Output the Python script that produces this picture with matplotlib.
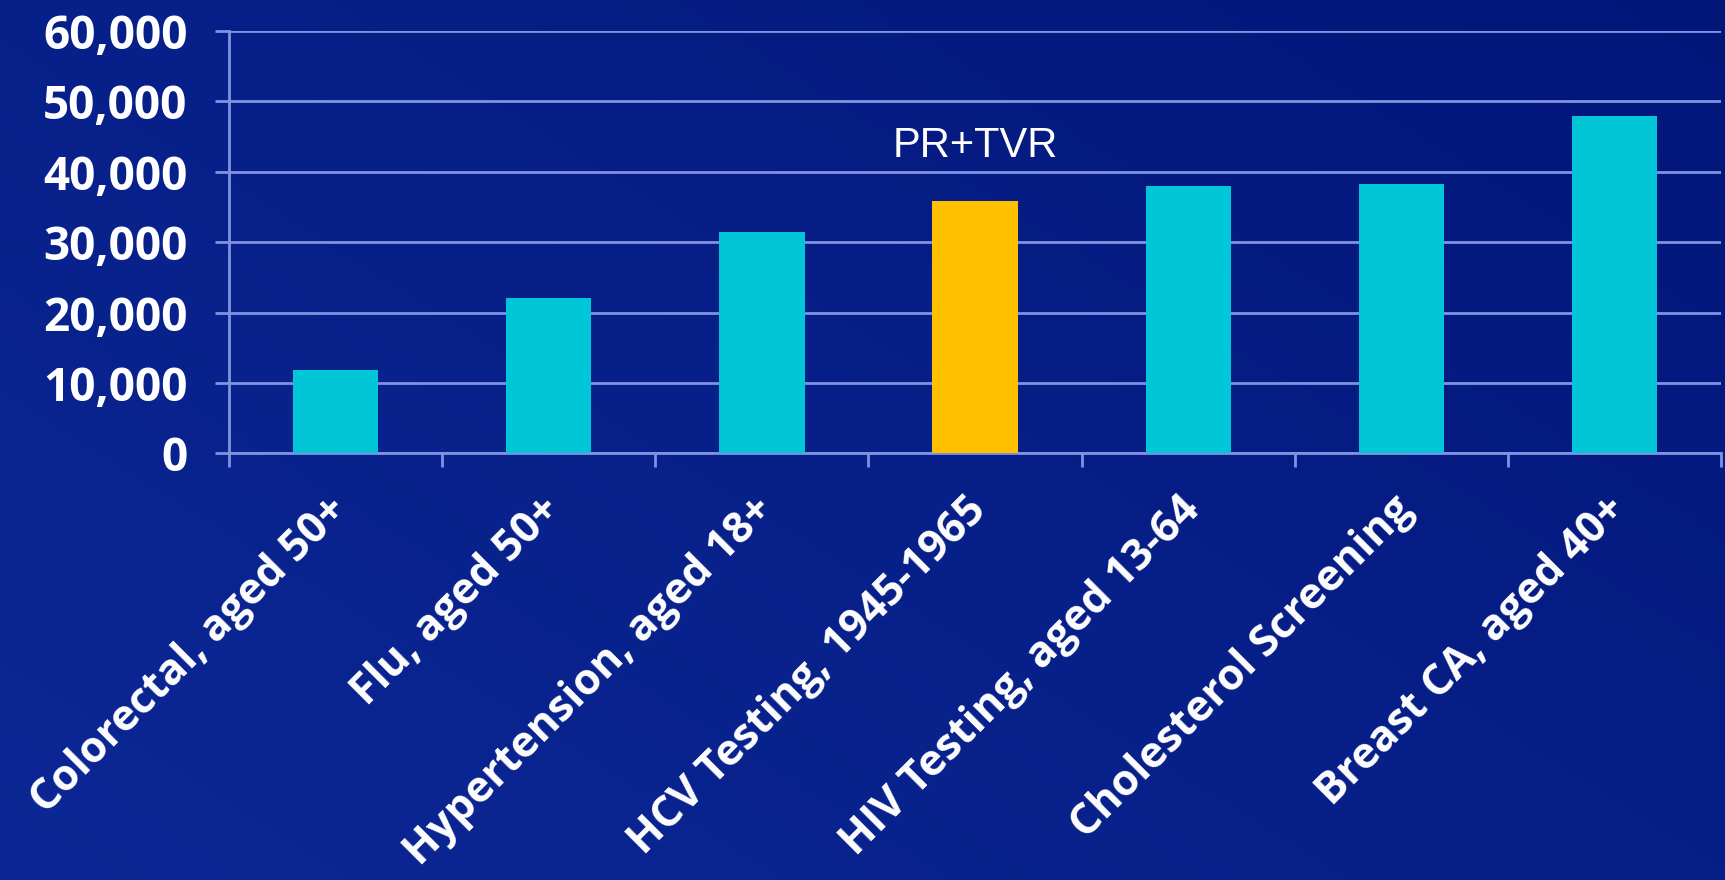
import numpy as np
import matplotlib
matplotlib.use("Agg")
import matplotlib.pyplot as plt
import matplotlib.transforms as mtransforms
from matplotlib.ticker import FixedLocator, FuncFormatter

categories = ["Colorectal, aged 50+", "Flu, aged 50+", "Hypertension, aged 18+",
              "HCV Testing, 1945-1965", "HIV Testing, aged 13-64",
              "Cholesterol Screening", "Breast CA, aged 40+"]
values = [11900, 22000, 31400, 35800, 37900, 38200, 47900]
highlight = "HCV Testing, 1945-1965"
annotation = "PR+TVR"
yticks = [0, 10000, 20000, 30000, 40000, 50000, 60000]

CYAN = "#00c6d7"
GOLD = "#ffc000"
GRID = "#8292e2"
LABEL_FONT = ["Open Sans", "DejaVu Sans"]

fig = plt.figure(figsize=(17.25, 8.8), dpi=100)

# background gradient
bg = fig.add_axes([0, 0, 1, 1], zorder=-10)
h, w = 200, 400
yy, xx = np.mgrid[0:1:h*1j, 0:1:w*1j]
c1 = np.array([0x0c, 0x28, 0x96]) / 255.0   # lighter (bottom-left)
c2 = np.array([0x02, 0x16, 0x7a]) / 255.0   # darker (top-right)
t = np.clip(0.55 * xx + 0.45 * (1 - yy), 0, 1)[..., None]
img = c1 * (1 - t) + c2 * t
bg.imshow(img, aspect="auto", extent=[0, 1, 0, 1], origin="upper")
bg.set_axis_off()

ax = fig.add_axes([0.1328, 0.4847, 0.8649, 0.4804])
ax.patch.set_alpha(0)

x = np.arange(len(categories))
colors = [GOLD if c == highlight else CYAN for c in categories]
ax.bar(x, values, width=0.4, color=colors, zorder=3)

ax.set_xlim(-0.5, len(categories) - 0.5)
ax.set_ylim(0, 60000)
ax.set_yticks(yticks)
ax.yaxis.set_major_formatter(FuncFormatter(lambda v, p: f"{int(v):,}"))
ax.grid(axis="y", color=GRID, linewidth=2, zorder=1)
ax.set_axisbelow(True)

for s in ["top", "right"]:
    ax.spines[s].set_visible(False)
for s in ["left", "bottom"]:
    ax.spines[s].set_color(GRID)
    ax.spines[s].set_linewidth(2)

ax.tick_params(axis="y", length=10, width=2, color=GRID, pad=20,
               labelcolor="white", labelsize=33)
for lab in ax.get_yticklabels():
    lab.set_fontweight("bold")
    lab.set_family(LABEL_FONT)

ax.set_xticks(x)
ax.set_xticklabels(categories, rotation=45, ha="right", rotation_mode="anchor",
                   va="center", color="white", fontsize=31, fontweight="bold",
                   family=LABEL_FONT)
ax.tick_params(axis="x", which="major", length=0, pad=36)
offset = mtransforms.ScaledTranslation(5 / 100, 0, fig.dpi_scale_trans)
for lab in ax.get_xticklabels():
    lab.set_transform(lab.get_transform() + offset)
ax.xaxis.set_minor_locator(FixedLocator(np.arange(-0.5, len(categories), 1.0)))
ax.tick_params(axis="x", which="minor", length=10, width=2, color=GRID)

hi = categories.index(highlight)
ax.text(hi, 43600, annotation, ha="center", va="center", color="white",
        fontsize=30, family=["Liberation Sans", "DejaVu Sans"], zorder=4)

fig.savefig("out.png", dpi=100)
